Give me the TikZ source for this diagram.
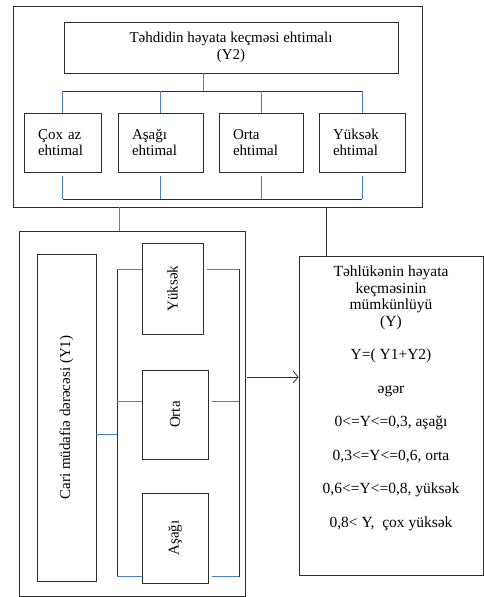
\documentclass[tikz,border=0pt]{standalone}
\usepackage{fontspec}
\setmainfont{Liberation Serif}
\usetikzlibrary{arrows.meta,positioning}
\definecolor{linkblue}{RGB}{79,129,189}
\definecolor{framegray}{RGB}{45,45,45}

\begin{document}
\begin{tikzpicture}[x=1pt,y=-1pt,>={Straight Barb[length=5pt,width=12pt]},
  every node/.style={font=\fontsize{15}{16.5}\selectfont},
  box/.style={draw=framegray,line width=0.8pt,inner sep=0pt},
  prob/.style={box,minimum height=59,align=left},
  level/.style={box,rotate=90,align=center},
  bus/.style={draw=framegray,line width=0.8pt},
  link/.style={draw=linkblue,line width=0.8pt}]
  \useasboundingbox (0,0) rectangle (484,597);
  % threat probability (Y2)
  \node[box,minimum width=409,minimum height=201] (threat) at (217.5,106.5) {};
  \node[box,minimum width=334,minimum height=51,align=center] (y2) at (231,47.5)
    {Təhdidin həyata keçməsi ehtimalı\\(Y2)};
  \node[prob,minimum width=77,text width=49] (p1) at (62.5,142.5) {Çox az\\ehtimal};
  \node[prob,minimum width=85,text width=57] (p2) at (160.5,142.5) {Aşağı\\ehtimal};
  \node[prob,minimum width=84,text width=56] (p3) at (261,142.5) {Orta\\ehtimal};
  \node[prob,minimum width=86,text width=58] (p4) at (362,142.5) {Yüksək\\ehtimal};
  \coordinate (ytap) at (203,91);
  \coordinate (ybot) at (0,199);
  \draw[link] (ytap |- y2.south) -- (ytap);
  \draw[bus] (p1.north |- ytap) -- (p4.north |- ytap);
  \draw[bus] (p1.south |- ybot) -- (p4.south |- ybot);
  \foreach \b in {p1,p2,p3,p4}{
    \draw[link] (\b.north |- ytap) -- (\b.north);
    \draw[link] ([yshift=-4]\b.south) -- (\b.south |- ybot);
  }

  % current defence level (Y1)
  \node[box,minimum width=226,minimum height=365] (defence) at (132,413.5) {};
  \node[level,minimum width=327,minimum height=59] (y1) at (66.5,417.5)
    {Cari müdafiə dərəcəsi (Y1)};
  \node[level,minimum width=91,minimum height=61] (lev3) at (172.5,288.5) {Yüksək};
  \node[level,minimum width=89,minimum height=66] (lev2) at (175,414.5) {Orta};
  \node[level,minimum width=90,minimum height=66] (lev1) at (175,538) {Aşağı};
  \coordinate (y1tap) at (117,434);
  \coordinate (ltop) at (117,269);
  \coordinate (lbot) at (117,577);
  \coordinate (rtop) at (239,269);
  \coordinate (rbot) at (239,577);
  \draw[bus] (ltop) -- (lbot);
  \draw[bus] (rtop) -- (rbot);
  \draw[link] (y1tap -| y1.south) -- (y1tap);
  \foreach \b/\y in {lev3/269,lev2/401,lev1/576}{
    \coordinate (l\b) at (117,\y);
    \coordinate (r\b) at (239,\y);
    \draw[link] (l\b) -- (l\b -| \b.north);
    \draw[link] ([xshift=4]r\b -| \b.south) -- (r\b);
  }

  % resulting risk (Y)
  \node[box,minimum width=184,minimum height=319] (risk) at (391,415.5) {};
  \node[anchor=north,inner sep=0pt,align=center,font=\fontsize{15.5}{16.5}\selectfont]
    (risktext) at ([yshift=-10]risk.north)
    {Təhlükənin həyata\\keçməsinin\\mümkünlüyü\\(Y)\\[17pt]
     Y=( Y1+Y2)\\[17pt]əgər\\[17pt]0<=Y<=0,3, aşağı\\[17pt]0,3<=Y<=0,6, orta\\[17pt]
     0,6<=Y<=0,8, yüksək\\[17pt]0,8< Y,\ \ çox yüksək};

  \coordinate (drop) at (119,0);
  \coordinate (feed) at (326,0);
  \coordinate (arr) at (247,377);
  \draw[link] (drop |- threat.south) -- (drop |- defence.north);
  \draw[bus] (feed |- threat.south) -- (feed |- risk.north);
  \draw[bus,->] (arr) -- (arr -| risk.west);
\end{tikzpicture}
\end{document}
